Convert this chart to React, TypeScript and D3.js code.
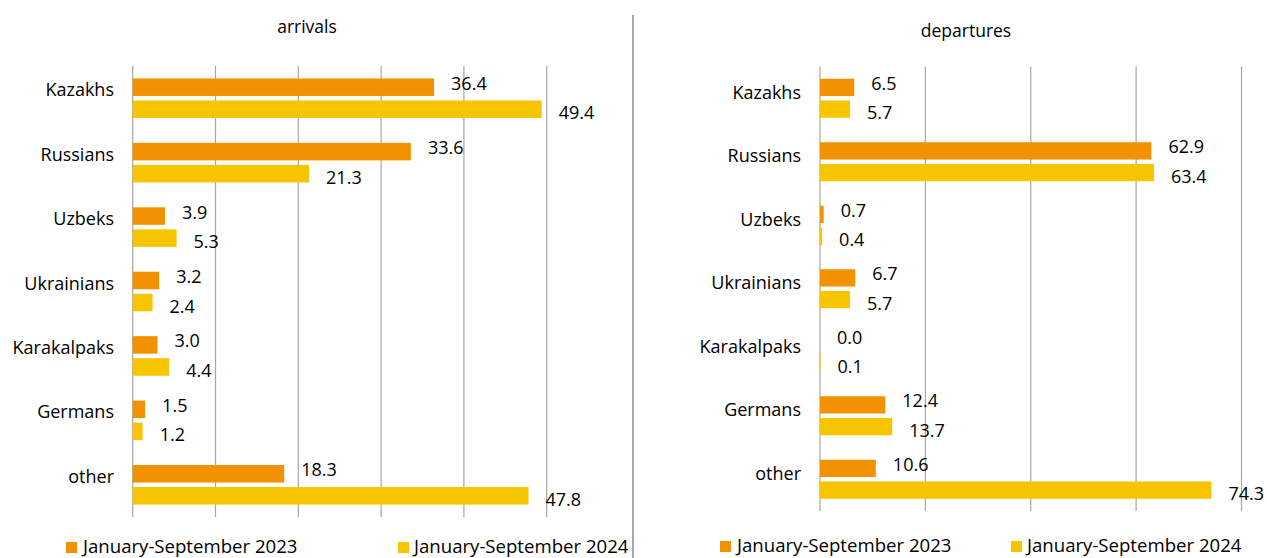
import React from "react";
import * as d3 from "d3";

const categories = ["Kazakhs", "Russians", "Uzbeks", "Ukrainians", "Karakalpaks", "Germans", "other"];
const arrivals2023 = [36.4, 33.6, 3.9, 3.2, 3.0, 1.5, 18.3];
const arrivals2024 = [49.4, 21.3, 5.3, 2.4, 4.4, 1.2, 47.8];
const departures2023 = [6.5, 62.9, 0.7, 6.7, 0.0, 12.4, 10.6];
const departures2024 = [5.7, 63.4, 0.4, 5.7, 0.1, 13.7, 74.3];
const arrivalTicks = [0, 10, 20, 30, 40, 50];
const departureTicks = [0, 20, 40, 60, 80];
const seriesNames = ["January-September 2023", "January-September 2024"];

const ORANGE = "#F39200";
const YELLOW = "#F6C500";
const GRID = "#A6A6A6";
const FONT = "'Open Sans', 'Noto Sans', sans-serif";
const FS = 18;

type PanelProps = {
  title: string;
  titleX: number;
  titleY: number;
  a: number[];
  b: number[];
  ticks: number[];
  x0: number;
  x1: number;
  y0: number;
  y1: number;
  labelRight: number;
  labelDy: number;
  legend: { sq1: number; sq2: number; y: number };
};

function Panel(p: PanelProps) {
  const x = d3.scaleLinear().domain([p.ticks[0], p.ticks[p.ticks.length - 1]]).range([p.x0, p.x1]);
  const y = d3.scaleBand<string>().domain(categories).range([p.y0, p.y1]).paddingInner(0).paddingOuter(0);
  const step = y.bandwidth();
  const barH = step * 0.272;
  const gap = step * 0.07;
  const padTop = (step - 2 * barH - gap) / 2;
  return (
    <g>
      <text x={p.titleX} y={p.titleY} textAnchor="middle" fontSize={17.5} fontFamily={FONT} fill="#000">
        {p.title}
      </text>
      {p.ticks.map((t) => (
        <line key={t} x1={x(t)} x2={x(t)} y1={p.y0} y2={p.y1} stroke={GRID} strokeWidth={1.2} />
      ))}
      {categories.map((c, i) => {
        const by = (y(c) as number) + padTop;
        const by2 = by + barH + gap;
        const mid = (y(c) as number) + step / 2;
        return (
          <g key={c}>
            <text x={p.labelRight} y={mid + p.labelDy} textAnchor="end" fontSize={FS} fontFamily={FONT} fill="#000">
              {c}
            </text>
            <rect x={x(0)} y={by} width={Math.max(0, x(p.a[i]) - x(0))} height={barH} fill={ORANGE} />
            <rect x={x(0)} y={by2} width={Math.max(0, x(p.b[i]) - x(0))} height={barH} fill={YELLOW} />
            <text x={x(p.a[i]) + 17} y={by + barH / 2 + 2.5} fontSize={FS} fontFamily={FONT} fill="#000">
              {p.a[i].toFixed(1)}
            </text>
            <text x={x(p.b[i]) + 17} y={by2 + barH / 2 + 10} fontSize={FS} fontFamily={FONT} fill="#000">
              {p.b[i].toFixed(1)}
            </text>
          </g>
        );
      })}
      <rect x={p.legend.sq1} y={p.legend.y - 11} width={11} height={11} fill={ORANGE} />
      <text x={p.legend.sq1 + 17} y={p.legend.y} fontSize={18.6} fontFamily={FONT} fill="#000">
        {seriesNames[0]}
      </text>
      <rect x={p.legend.sq2} y={p.legend.y - 11} width={11} height={11} fill={YELLOW} />
      <text x={p.legend.sq2 + 16} y={p.legend.y} fontSize={18.6} fontFamily={FONT} fill="#000">
        {seriesNames[1]}
      </text>
    </g>
  );
}

export default function App() {
  return (
    <svg width={1267} height={558} style={{ position: "absolute", left: 0, top: 0, background: "#fff" }}>
      <rect x={0} y={0} width={1267} height={558} fill="#fff" />
      <Panel
        title="arrivals"
        titleX={307}
        titleY={33}
        a={arrivals2023}
        b={arrivals2024}
        ticks={arrivalTicks}
        x0={132.7}
        x1={546.7}
        y0={66}
        y1={517}
        labelRight={114}
        labelDy={-2}
        legend={{ sq1: 66, sq2: 398, y: 553 }}
      />
      <line x1={633} x2={633} y1={15} y2={558} stroke="#8C8C8C" strokeWidth={1.5} />
      <Panel
        title="departures"
        titleX={966}
        titleY={37}
        a={departures2023}
        b={departures2024}
        ticks={departureTicks}
        x0={820}
        x1={1241.5}
        y0={66.5}
        y1={511}
        labelRight={801}
        labelDy={0.5}
        legend={{ sq1: 720, sq2: 1011, y: 552 }}
      />
    </svg>
  );
}
